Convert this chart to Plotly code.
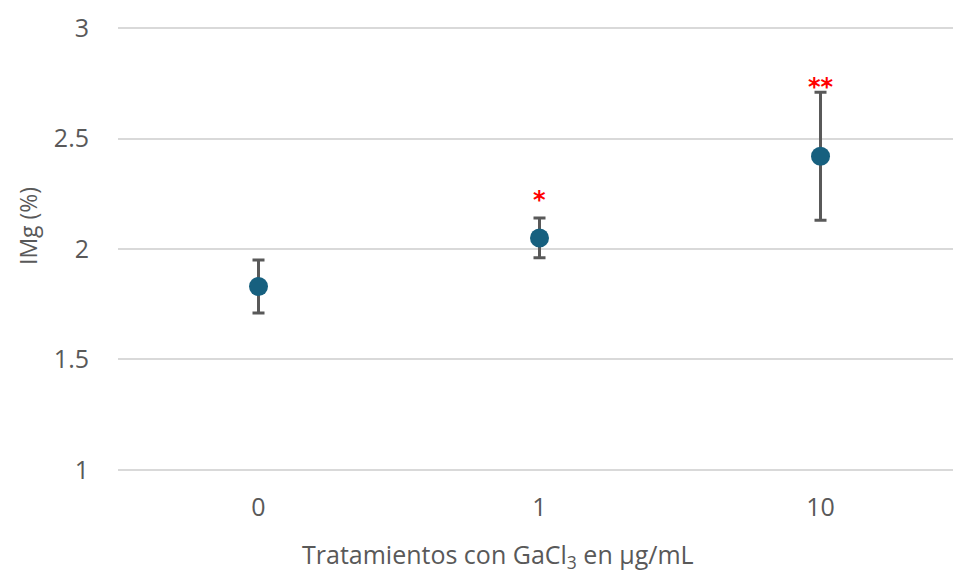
import plotly.graph_objects as go

# Treatment doses (µg/mL) and measured IMg (%)
categories = ["0", "1", "10"]
means = [1.83, 2.05, 2.42]
errors = [0.12, 0.09, 0.29]
significance = ["", "*", "**"]
y_ticks = [1, 1.5, 2, 2.5, 3]

FONT = "Open Sans"
GREY = "#595959"

fig = go.Figure()
fig.add_trace(go.Scatter(
    x=categories,
    y=means,
    mode="markers",
    marker=dict(size=19, color="#17607f"),
    error_y=dict(type="data", array=errors, visible=True,
                 color=GREY, thickness=3, width=6),
    showlegend=False,
))

# Significance marks above each error bar (x given as category index)
mark_shift = [0, 2, -11]
for i, (m, e, s) in enumerate(zip(means, errors, significance)):
    if s:
        fig.add_annotation(
            x=i, y=m + e, text=s, showarrow=False,
            yanchor="bottom", yshift=mark_shift[i],
            font=dict(family="DejaVu Sans", size=24, color="#ff0000", weight="bold"),
        )

# Axis titles
fig.add_annotation(
    xref="paper", yref="paper", x=498, y=555, text="Tratamientos con GaCl<sub>3</sub> en µg/mL",
    showarrow=False, font=dict(family=FONT, size=25, color=GREY),
)
fig.add_annotation(
    xref="paper", yref="paper", x=28, y=226, text="IMg (%)", textangle=-90,
    showarrow=False, font=dict(family=FONT, size=23, color=GREY),
)

W, H = 953, 576
L, R, T, B = 118, 0, 27, 105
# convert pixel placements of the titles into paper coordinates
for ann in fig.layout.annotations[-2:]:
    ann.x = (ann.x - L) / (W - L - R)
    ann.y = (H - B - ann.y) / (H - T - B)
    ann.xanchor = "center"
    ann.yanchor = "middle"

fig.update_layout(
    width=W, height=H,
    margin=dict(l=L, r=R, t=T, b=B),
    paper_bgcolor="white", plot_bgcolor="white",
    font=dict(family=FONT, color=GREY),
    xaxis=dict(
        type="category",
        range=[-0.5, 2.4715],
        showgrid=False, zeroline=False, showline=False,
        ticks="", tickfont=dict(size=25, color=GREY),
        ticklabelstandoff=19,
    ),
    yaxis=dict(
        range=[0.995, 3.005],
        tickvals=y_ticks,
        ticktext=[f"{v:g}" for v in y_ticks],
        showgrid=True, gridcolor="#d9d9d9", gridwidth=2,
        zeroline=False, showline=False,
        ticks="", tickfont=dict(size=25, color=GREY),
        ticklabelstandoff=28,
    ),
)

fig.write_html("out.html")
